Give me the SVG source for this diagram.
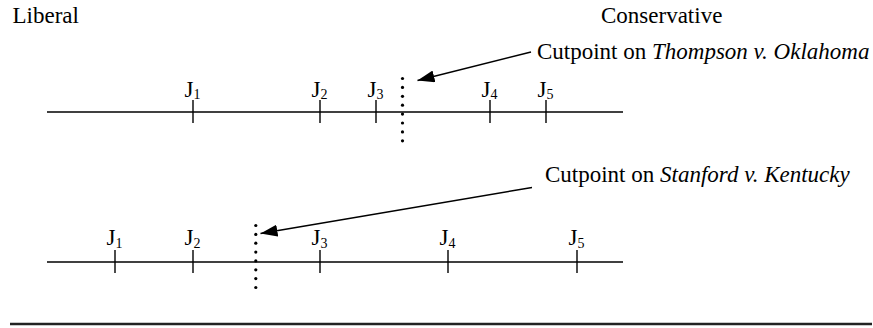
<svg xmlns="http://www.w3.org/2000/svg" width="873" height="328" viewBox="0 0 873 328">
<style>
text{font-family:'Liberation Serif','Times New Roman',Times,'DejaVu Serif',serif;font-size:23px;fill:#000}
.sub{font-size:14px}
.it{font-style:italic}
.ax{stroke:#000;stroke-width:1.4;fill:none}
.dot{fill:#000}
.arr{stroke:#000;stroke-width:1.5;fill:none}
</style>
<defs>
<marker id="ah" markerUnits="userSpaceOnUse" markerWidth="18" markerHeight="12" refX="17" refY="6" orient="auto">
<path d="M0,0 L17,6 L0,12 z" fill="#000"/>
</marker>
</defs>
<rect width="873" height="328" fill="#fff"/>
<g id="header" font-family="Liberation Serif, serif">
<text x="12.5" y="23">Liberal</text>
<text x="601" y="22.5">Conservative</text>
</g>
<g id="axis1">
<line class="ax" x1="47" y1="112" x2="623" y2="112"/>
<line class="ax" x1="193" y1="100" x2="193" y2="123"/>
<line class="ax" x1="320" y1="100" x2="320" y2="123"/>
<line class="ax" x1="376" y1="100" x2="376" y2="123"/>
<line class="ax" x1="490" y1="100" x2="490" y2="123"/>
<line class="ax" x1="546" y1="100" x2="546" y2="123"/>
<text x="184.5" y="96.5">J<tspan class="sub" dy="2.5">1</tspan></text>
<text x="311.5" y="96.5">J<tspan class="sub" dy="2.5">2</tspan></text>
<text x="367.5" y="96.5">J<tspan class="sub" dy="2.5">3</tspan></text>
<text x="481.5" y="96.5">J<tspan class="sub" dy="2.5">4</tspan></text>
<text x="537.5" y="96.5">J<tspan class="sub" dy="2.5">5</tspan></text>
</g>
<g id="cutpoint1">
<circle class="dot" cx="402.5" cy="78.5" r="1.6"/>
<circle class="dot" cx="402.5" cy="87.4" r="1.6"/>
<circle class="dot" cx="402.5" cy="96.3" r="1.6"/>
<circle class="dot" cx="402.5" cy="105.2" r="1.6"/>
<circle class="dot" cx="402.5" cy="114.1" r="1.6"/>
<circle class="dot" cx="402.5" cy="123" r="1.6"/>
<circle class="dot" cx="402.5" cy="131.9" r="1.6"/>
<circle class="dot" cx="402.5" cy="140.8" r="1.6"/>
<text x="537" y="59">Cutpoint on <tspan class="it">Thompson v. Oklahoma</tspan></text>
</g>
<g id="axis2">
<line class="ax" x1="47" y1="262" x2="623" y2="262"/>
<line class="ax" x1="115" y1="250" x2="115" y2="273"/>
<line class="ax" x1="193" y1="250" x2="193" y2="273"/>
<line class="ax" x1="320" y1="250" x2="320" y2="273"/>
<line class="ax" x1="448" y1="250" x2="448" y2="273"/>
<line class="ax" x1="577" y1="250" x2="577" y2="273"/>
<text x="106.5" y="245">J<tspan class="sub" dy="2.5">1</tspan></text>
<text x="184.5" y="245">J<tspan class="sub" dy="2.5">2</tspan></text>
<text x="311.5" y="245">J<tspan class="sub" dy="2.5">3</tspan></text>
<text x="439.5" y="245">J<tspan class="sub" dy="2.5">4</tspan></text>
<text x="568.5" y="245">J<tspan class="sub" dy="2.5">5</tspan></text>
</g>
<g id="cutpoint2">
<circle class="dot" cx="255.8" cy="225.5" r="1.6"/>
<circle class="dot" cx="255.8" cy="234.4" r="1.6"/>
<circle class="dot" cx="255.8" cy="243.2" r="1.6"/>
<circle class="dot" cx="255.8" cy="252.1" r="1.6"/>
<circle class="dot" cx="255.8" cy="260.9" r="1.6"/>
<circle class="dot" cx="255.8" cy="269.8" r="1.6"/>
<circle class="dot" cx="255.8" cy="278.6" r="1.6"/>
<circle class="dot" cx="255.8" cy="287.5" r="1.6"/>
<text x="545" y="182">Cutpoint on <tspan class="it">Stanford v. Kentucky</tspan></text>
</g>
<g id="connectors">
<line class="arr" x1="531" y1="52" x2="417.5" y2="80.5" marker-end="url(#ah)"/>
<line class="arr" x1="532" y1="187.5" x2="260.5" y2="233.5" marker-end="url(#ah)"/>
</g>
<g id="rule">
<line x1="10" y1="324" x2="872" y2="324" stroke="#222" stroke-width="2.6"/>
</g>
</svg>
